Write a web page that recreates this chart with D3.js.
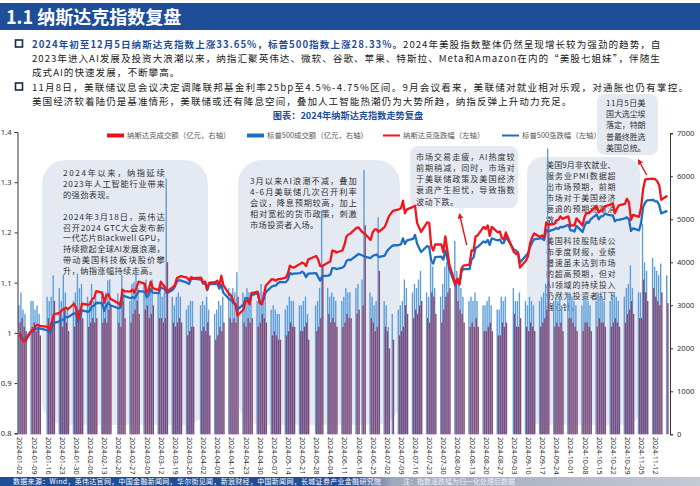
<!DOCTYPE html>
<meta charset="utf-8" />
<script src="https://d3js.org/d3.v7.min.js"></script>
<style>
  body { margin: 0; background: #fff; }
  svg text { font-family: "Noto Sans CJK SC", "Noto Sans", sans-serif; }
</style>
<svg id="chart" width="700" height="486"></svg>
<script>
  // ---- data ----
  var firstDay = "2024-01-02", lastDay = "2024-11-18";
  var holidays = ["2024-01-15", "2024-02-19", "2024-03-29", "2024-05-27", "2024-06-19", "2024-07-04", "2024-09-02"];

  var tickLabels = ["2024-01-02","2024-01-09","2024-01-16","2024-01-23","2024-01-30","2024-02-06","2024-02-13",
    "2024-02-20","2024-02-27","2024-03-05","2024-03-12","2024-03-19","2024-03-26","2024-04-02","2024-04-09",
    "2024-04-16","2024-04-23","2024-04-30","2024-05-07","2024-05-14","2024-05-21","2024-05-28","2024-06-04",
    "2024-06-11","2024-06-18","2024-06-25","2024-07-02","2024-07-09","2024-07-16","2024-07-23","2024-07-30",
    "2024-08-06","2024-08-13","2024-08-20","2024-08-27","2024-09-03","2024-09-10","2024-09-17","2024-09-24",
    "2024-10-01","2024-10-08","2024-10-15","2024-10-22","2024-10-29","2024-11-05","2024-11-12"];

  // 纳斯达克涨跌幅（左轴）
  var nasdaqChg = [
    1.000,0.988,0.983,0.984,1.005,1.006,1.014,1.016,1.014,1.012,1.006,1.020,1.037,1.040,1.045,1.048,1.050,1.047,1.058,1.050,1.027,
    1.040,1.058,1.056,1.057,1.067,1.070,1.083,1.080,1.060,1.074,1.077,1.068,1.059,1.055,1.086,1.083,1.082,1.086,1.080,1.090,
    1.102,1.098,1.080,1.086,1.102,1.089,1.085,1.102,1.096,1.092,1.082,1.091,1.095,1.109,1.111,1.113,1.110,1.105,1.111,1.109,
    1.110,1.100,1.102,1.087,1.100,1.101,1.104,1.095,1.114,1.095,1.076,1.074,1.062,1.057,1.035,1.046,1.063,1.064,1.057,1.079,1.082,1.060,
    1.057,1.073,1.094,1.107,1.106,1.104,1.107,1.107,1.110,1.118,1.134,1.131,1.130,1.137,1.140,1.138,1.133,1.146,1.153,1.146,1.133,1.133,
    1.140,1.142,1.164,1.163,1.160,1.164,1.175,1.192,1.196,1.198,1.209,1.210,1.200,1.198,1.185,1.200,1.206,1.206,1.201,
    1.211,1.221,1.232,1.243,1.246,1.248,1.263,1.238,1.246,1.251,1.253,1.219,1.210,1.201,1.220,1.219,1.174,1.164,1.176,1.176,1.161,1.192,
    1.164,1.136,1.097,1.108,1.097,1.128,1.134,1.136,1.164,1.164,1.192,1.194,1.211,1.207,1.214,1.193,1.211,1.200,1.202,1.189,1.186,1.200,
    1.161,1.157,1.160,1.130,1.144,1.153,1.178,1.190,1.198,1.191,1.194,1.190,1.220,1.215,1.217,1.224,1.225,1.232,1.227,1.232,
    1.213,1.214,1.214,1.228,1.214,1.231,1.239,1.238,1.242,1.253,1.240,1.244,1.244,1.252,1.256,1.258,1.238,1.247,1.254,1.257,1.267,1.260,1.225,
    1.235,1.231,1.249,1.286,1.305,1.306,1.307,1.306,1.302,1.294,1.265,1.273];

  // 标普500涨跌幅（左轴）
  var spxChg = [
    1.000,0.992,0.989,0.990,1.004,1.003,1.009,1.008,1.009,1.005,0.999,1.008,1.020,1.023,1.026,1.027,1.032,1.031,1.039,1.038,1.022,
    1.034,1.045,1.042,1.045,1.053,1.054,1.060,1.059,1.044,1.054,1.060,1.055,1.049,1.050,1.073,1.073,1.069,1.071,1.069,1.075,
    1.083,1.082,1.071,1.076,1.087,1.080,1.079,1.091,1.089,1.086,1.079,1.086,1.092,1.102,1.105,1.104,1.100,1.097,1.107,1.108,
    1.106,1.098,1.099,1.085,1.097,1.097,1.098,1.088,1.096,1.080,1.067,1.065,1.059,1.057,1.047,1.056,1.069,1.069,1.064,1.075,1.079,1.062,
    1.058,1.068,1.081,1.092,1.094,1.094,1.099,1.101,1.101,1.106,1.119,1.117,1.118,1.119,1.122,1.119,1.111,1.118,1.119,1.111,1.104,1.113,
    1.114,1.116,1.129,1.129,1.127,1.130,1.133,1.143,1.146,1.145,1.154,1.157,1.154,1.152,1.149,1.153,1.155,1.156,1.151,
    1.154,1.162,1.167,1.174,1.175,1.176,1.188,1.177,1.184,1.187,1.195,1.178,1.169,1.161,1.173,1.171,1.144,1.138,1.151,1.152,1.146,1.164,
    1.148,1.127,1.094,1.105,1.096,1.122,1.127,1.127,1.146,1.150,1.169,1.171,1.182,1.180,1.185,1.175,1.188,1.184,1.186,1.179,1.179,1.191,
    1.166,1.164,1.160,1.140,1.154,1.159,1.171,1.180,1.186,1.188,1.188,1.185,1.205,1.202,1.206,1.209,1.207,1.211,1.210,1.215,
    1.204,1.204,1.202,1.213,1.201,1.213,1.221,1.219,1.226,1.236,1.226,1.232,1.232,1.237,1.234,1.234,1.222,1.225,1.225,1.228,1.230,1.226,1.203,
    1.208,1.204,1.219,1.250,1.259,1.264,1.265,1.262,1.262,1.254,1.238,1.243];

  // 纳斯达克成交额（亿元，右轴）
  var nasdaqVol = [
    2600,2700,2500,2400,2500,2600,2400,2500,2300,2700,2600,2700,3100,2800,2500,2900,2600,2400,2500,2700,2900,
    2800,2700,2500,2600,2700,2600,2700,2600,2700,2600,2900,3000,2600,2500,3100,2700,2600,2800,2900,3100,
    2800,2900,3000,2700,2800,3000,2700,2700,2600,2700,4000,2600,2500,2600,2700,2600,2300,2400,2500,2500,
    2400,2500,2400,2600,2300,2200,2300,2500,2400,2600,2700,2600,2700,2600,3200,2600,2500,2700,2600,2700,2500,2600,
    2800,2700,2600,2300,2400,2300,2200,2200,2300,2400,2600,2500,2500,2400,2400,2500,2600,2200,2400,2500,2700,3900,
    2800,2600,2700,2600,2500,2500,2600,2800,2700,2700,2800,2900,3000,4860,2700,2600,2400,2500,3800,
    2500,2400,2000,2200,2300,2400,2500,3000,2800,2700,2900,2800,3000,3100,2700,2600,3300,3200,2800,2600,2900,3200,
    3300,3400,3600,3100,2900,2800,2600,2500,2600,2500,2700,2500,2400,2400,2500,2600,2400,2300,2300,2600,2500,2600,
    2800,2500,2500,2700,2500,2400,2600,2500,2400,2500,2600,2700,2900,4900,2500,2600,2500,2600,2400,2700,
    2700,2600,2500,2400,2400,2600,2600,2500,2400,2500,2700,2600,2600,2500,2500,2600,2700,2600,2500,2600,2800,2900,3100,
    2800,2700,2700,3600,3300,3100,3400,3200,3100,3000,3300,3050];

  // 标普500成交额（亿元，右轴）
  var spxVol = [
    3000,3300,2900,2800,3100,3100,2900,3000,2800,3200,3100,3200,3700,3400,3100,3700,3300,2900,3100,3300,3740,
    3400,3500,3200,3100,3500,3100,3200,3300,3200,3300,3580,3600,3280,3100,3700,3300,3100,3500,3540,3800,
    3400,3500,3600,3300,3400,3600,3300,3300,3200,3300,5950,3200,3000,3200,3300,3200,2900,3000,3100,3100,
    3000,3100,3000,3200,2900,2800,2900,3100,3000,3200,3400,3300,3400,3300,3770,3300,3200,3400,3300,3300,3100,3300,
    3500,3300,3200,2900,3000,2900,2800,2800,2900,3000,3200,3100,3100,3000,3000,3100,3200,2800,3000,3100,3400,5200,
    3400,3200,3300,3200,3100,3100,3200,3400,3300,3300,3400,3500,3600,6150,3300,3200,3000,3100,5050,
    3100,3000,2500,2800,2900,3000,3100,3600,3400,3300,3500,3400,3600,3800,3300,3200,4000,3900,3400,3200,3500,3900,
    4000,4100,4500,3800,3600,3400,3200,3100,3200,3100,3300,3100,3000,3000,3100,3200,3000,2900,2900,3200,3100,3200,
    3400,3100,3100,3300,3100,3000,3200,3100,3000,3100,3200,3300,3500,6650,3100,3200,3100,3200,3000,3300,
    3300,3200,3100,3000,3000,3200,3200,3100,3000,3100,3300,3200,3200,3100,3100,3200,3300,3200,3100,3200,3400,3500,3930,
    3400,3300,3300,4900,4000,3800,4100,3900,3800,3700,3970,3700];

  // ---- build the trading-day table ----
  var parse = d3.timeParse("%Y-%m-%d"), fmt = d3.timeFormat("%Y-%m-%d");
  var days = d3.timeDay.range(parse(firstDay), d3.timeDay.offset(parse(lastDay), 1))
    .filter(function (d) { return d.getDay() !== 0 && d.getDay() !== 6 && holidays.indexOf(fmt(d)) < 0; });
  var data = days.map(function (d, i) {
    return { date: d, nq: nasdaqChg[i], sp: spxChg[i], nqv: nasdaqVol[i], spv: spxVol[i] };
  });

  var svg = d3.select("#chart");
  var blue = "#1F4E99";

  // header band
  svg.append("rect").attr("x", 0).attr("y", 3).attr("width", 700).attr("height", 27).attr("fill", blue);
  svg.append("text").attr("x", 6).attr("y", 24).attr("fill", "#fff")
    .attr("font-size", 18).attr("font-weight", "bold").text("1.1 纳斯达克指数复盘");

  // bullet paragraphs, one text block each
  var paras = [
    { y: 47.5, lines: [
      [["2024年初至12月5日纳斯达克指数上涨33.65%，标普500指数上涨28.33%。", true],
       ["2024年美股指数整体仍然呈现增长较为强劲的趋势，自", false]],
      [["2023年进入AI发展及投资大浪潮以来，纳指汇聚英伟达、微软、谷歌、苹果、特斯拉、Meta和Amazon在内的“美股七姐妹”，伴随生", false]],
      [["成式AI的快速发展，不断攀高。", false]] ] },
    { y: 90.5, lines: [
      [["11月8日，美联储议息会议决定调降联邦基金利率25bp至4.5%-4.75%区间。9月会议看来，美联储对就业相对乐观，对通胀也仍有掌控。", false, 657]],
      [["美国经济软着陆仍是基准情形，美联储或还有降息空间，叠加人工智能热潮仍为大势所趋，纳指反弹上升动力充足。", false]] ] }
  ];
  paras.forEach(function (p) {
    svg.append("rect").attr("x", 15.5).attr("y", p.y - 7.5).attr("width", 7).attr("height", 7)
      .attr("fill", "none").attr("stroke", "#1a2a4a").attr("stroke-width", 1.6);
    var t = svg.append("text").attr("font-size", 9.6).attr("letter-spacing", 1.0).attr("fill", "#222");
    p.lines.forEach(function (line, li) {
      line.forEach(function (part, pi) {
        var s = t.append("tspan").text(part[0])
          .attr("font-weight", part[1] ? "bold" : "normal").attr("fill", part[1] ? blue : "#222");
        if (pi === 0) s.attr("x", 32).attr("y", p.y + li * 14.1);
        if (part[2]) s.attr("textLength", part[2]).attr("lengthAdjust", "spacing");
      });
    });
  });

  // chart title
  svg.append("text").attr("x", 348).attr("y", 118.6).attr("text-anchor", "middle")
    .attr("font-size", 9.2).attr("font-weight", "bold").attr("fill", blue)
    .text("图表：2024年纳斯达克指数走势复盘");

  // ---- scales ----
  var x = d3.scaleTime().domain([new Date(2024, 0, 1), new Date(2024, 10, 19, 8)]).range([17.5, 670]);
  var yL = d3.scaleLinear().domain([0.8, 1.4]).range([433.3, 132]);
  var yR = d3.scaleLinear().domain([0, 7000]).range([434.3, 133.3]);

  // annotation boxes (behind the marks)
  var boxes = [
    { x: 42, y: 160, w: 166, h: 265, r: 24 },
    { x: 238, y: 160, w: 162, h: 265, r: 24 },
    { x: 410, y: 146, w: 108, h: 62, r: 8 },
    { x: 527, y: 157, w: 113, h: 268, r: 16 },
    { x: 597, y: 94, w: 61, h: 61, r: 8 }
  ];
  svg.selectAll(".box").data(boxes).enter().append("rect").attr("class", "box")
    .attr("x", function (d) { return d.x; }).attr("y", function (d) { return d.y; })
    .attr("width", function (d) { return d.w; }).attr("height", function (d) { return d.h; })
    .attr("rx", function (d) { return d.r; }).attr("fill", "#E4E9F2");

  // note text, justified to the box width (lines ending a paragraph are left as they are)
  var notes = [
    { x: 63, y0: 176, dy: 10.9, fs: 8.2, w: 102, lines: ["2024年以来，纳指延续", "2023年人工智能行业带来", "的强劲表现。|", "",
      "2024年3月18日，英伟达", "召开2024 GTC大会发布新", "一代芯片Blackwell GPU，", "持续掀起全球AI发展浪潮，",
      "带动美国科技板块股价攀", "升，纳指涨幅持续走高。|"] },
    { x: 250, y0: 183.5, dy: 11.1, fs: 8.2, w: 107, lines: ["3月以来AI浪潮不减，叠加", "4-6月美联储几次召开利率",
      "会议，降息预期较高，加上", "相对宽松的货币政策，刺激", "市场投资者入场。|"] },
    { x: 416, y0: 159.5, dy: 11.3, fs: 8.1, w: 99, lines: ["市场交易走疲，AI热度较", "前期稍减，同时，市场对",
      "于美联储政策及美国经济", "衰退产生担忧，导致指数", "波动下跌。|"] },
    { x: 546, y0: 168, dy: 10.9, fs: 8.0, w: 70, lines: ["美国9月非农就业、", "服务业PMI数据超", "出市场预期，前期",
      "市场对于美国经济", "衰退的预期逐渐消", "散。|", "", "美国科技股陆续公", "布季度财报，业绩",
      "增速虽未达到市场", "的超高预期，但对", "AI领域的持续投入", "仍然为投资者打下", "强心针。|"] },
    { x: 606, y0: 106, dy: 11.2, fs: 8.0, w: 40, lines: ["11月5日美", "国大选尘埃", "落定，特朗", "普最终胜选", "美国总统。"] }
  ];
  notes.forEach(function (n) {
    var t = svg.append("text").attr("font-size", n.fs).attr("fill", "#333").attr("letter-spacing", 0.4);
    n.lines.forEach(function (s, i) {
      if (s === "") return;
      var last = s.charAt(s.length - 1) === "|";
      var ts = t.append("tspan").attr("x", n.x).attr("y", n.y0 + i * n.dy).text(last ? s.slice(0, -1) : s);
      if (!last) ts.attr("textLength", n.w).attr("lengthAdjust", "spacing");
    });
  });

  // ---- bars ----
  var bars = svg.append("g");
  bars.selectAll(".spv").data(data).enter().append("rect").attr("class", "spv")
    .attr("x", function (d) { return x(d.date) - 1.3; }).attr("width", 1.4)
    .attr("y", function (d) { return yR(d.spv); })
    .attr("height", function (d) { return yR(0) - yR(d.spv); })
    .attr("fill", "#5E9FDA");
  bars.selectAll(".nqv").data(data).enter().append("rect").attr("class", "nqv")
    .attr("x", function (d) { return x(d.date) - 0.1; }).attr("width", 1.4)
    .attr("y", function (d) { return yR(d.nqv); })
    .attr("height", function (d) { return yR(0) - yR(d.nqv); })
    .attr("fill", "#8C4670");

  // ---- lines ----
  var lineNq = d3.line().x(function (d) { return x(d.date); }).y(function (d) { return yL(d.nq); });
  var lineSp = d3.line().x(function (d) { return x(d.date); }).y(function (d) { return yL(d.sp); });
  svg.append("path").datum(data).attr("d", lineSp).attr("fill", "none")
    .attr("stroke", "#1E6EC3").attr("stroke-width", 2.3).attr("stroke-linejoin", "round");
  svg.append("path").datum(data).attr("d", lineNq).attr("fill", "none")
    .attr("stroke", "#F2151C").attr("stroke-width", 2.3).attr("stroke-linejoin", "round");

  // ---- axes ----
  var axL = svg.append("g").attr("transform", "translate(17.5,0)")
    .call(d3.axisLeft(yL).tickValues([0.8, 0.9, 1, 1.1, 1.2, 1.3, 1.4]).tickSize(3).tickFormat(d3.format("~g")));
  var axR = svg.append("g").attr("transform", "translate(670,0)")
    .call(d3.axisRight(yR).tickValues([0, 1000, 2000, 3000, 4000, 5000, 6000, 7000]).tickSize(3).tickFormat(d3.format("d")));
  [axL, axR].forEach(function (a) {
    a.select(".domain").attr("stroke", "#333");
    a.selectAll("line").attr("stroke", "#333");
    a.selectAll("text").attr("font-size", 7.6).attr("fill", "#333")
      .style("font-family", "'Noto Sans', sans-serif");
  });
  axR.selectAll("text").attr("x", 7);

  var axB = svg.append("g").attr("transform", "translate(0,434)")
    .call(d3.axisBottom(x).tickValues(tickLabels.map(parse)).tickSize(0).tickFormat(fmt));
  axB.select(".domain").remove();
  axB.selectAll("text").attr("transform", "rotate(90)").attr("text-anchor", "start")
    .attr("x", 3).attr("y", 0).attr("dy", "0.35em")
    .attr("font-size", 7.2).attr("fill", "#333").style("font-family", "'Noto Sans', sans-serif");

  // ---- legend ----
  var legend = [
    { x: 107, kind: "rect", color: "#E8141B", label: "纳斯达克成交额（亿元，右轴）" },
    { x: 247, kind: "rect", color: "#1F6FC0", label: "标普500成交额（亿元，右轴）" },
    { x: 383, kind: "line", color: "#F2151C", label: "纳斯达克涨跌幅（左轴）" },
    { x: 502, kind: "line", color: "#1E6EC3", label: "标普500涨跌幅（左轴）" }
  ];
  legend.forEach(function (l) {
    svg.append("rect").attr("x", l.x).attr("y", l.kind === "rect" ? 133.5 : 134.5)
      .attr("width", 17).attr("height", l.kind === "rect" ? 4 : 2).attr("fill", l.color);
    svg.append("text").attr("x", l.x + 20).attr("y", 138.3).attr("font-size", 7.4)
      .attr("fill", "#555").text(l.label);
  });

  // ---- arrows ----
  svg.append("defs").append("marker").attr("id", "ah").attr("viewBox", "0 0 10 10")
    .attr("refX", 8).attr("refY", 5).attr("markerWidth", 4).attr("markerHeight", 4).attr("orient", "auto")
    .append("path").attr("d", "M0,0L10,5L0,10Z").attr("fill", "#E8141B");
  [[466.7, 245, 459.5, 214], [646.7, 175, 638.5, 160]].forEach(function (a) {
    svg.append("line").attr("x1", a[0]).attr("y1", a[1]).attr("x2", a[2]).attr("y2", a[3])
      .attr("stroke", "#E8141B").attr("stroke-width", 1.4).attr("marker-end", "url(#ah)");
  });

  // ---- footer ----
  var grad = svg.select("defs").append("linearGradient").attr("id", "foot");
  grad.append("stop").attr("offset", "0%").attr("stop-color", blue);
  grad.append("stop").attr("offset", "50%").attr("stop-color", blue);
  grad.append("stop").attr("offset", "56%").attr("stop-color", "#9FA8BA");
  grad.append("stop").attr("offset", "100%").attr("stop-color", "#C4C9D4");
  svg.append("rect").attr("x", 0).attr("y", 477).attr("width", 700).attr("height", 9).attr("fill", "url(#foot)");
  svg.append("text").attr("x", 13).attr("y", 484.2).attr("font-size", 7).attr("fill", "#fff")
    .attr("letter-spacing", 0.3)
    .text("数据来源：Wind，英伟达官网，中国金融新闻网，华尔街见闻，新浪财经，中国新闻网，长城证券产业金融研究院");
  svg.append("text").attr("x", 403).attr("y", 484.2).attr("font-size", 7).attr("fill", "#eef")
    .text("注：指数涨跌幅为归一化处理后数据");
</script>
